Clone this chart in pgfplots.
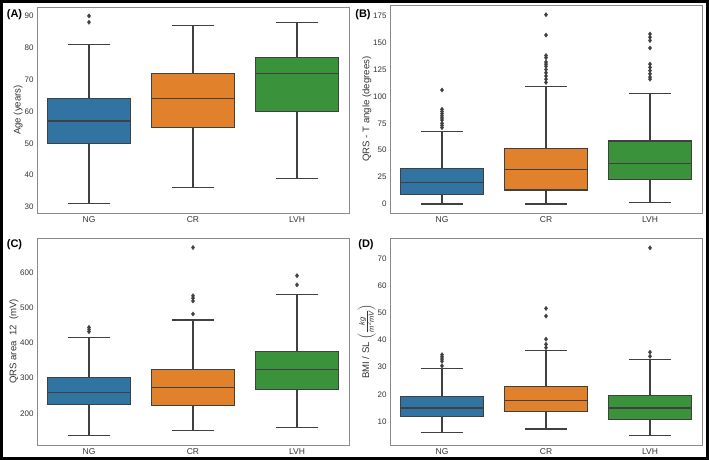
\documentclass[border=0pt]{standalone}
\usepackage{amsmath}
\usepackage{fontspec}
\setmainfont{Liberation Sans}
\usepackage{pgfplots}
\pgfplotsset{compat=1.18}

\definecolor{sbblue}{HTML}{3274A1}
\definecolor{sborange}{HTML}{E1812C}
\definecolor{sbgreen}{HTML}{3A923A}
\definecolor{sbline}{HTML}{404040}
\definecolor{sbtick}{HTML}{333333}
\definecolor{sbframe}{HTML}{8A8A8A}

\pgfplotsset{
  sbpanel/.style={
    scale only axis, width=312pt, height=207pt, anchor=south west,
    xmin=-0.5, xmax=2.5, xtick={0,1,2}, xticklabels={NG,CR,LVH},
    major tick length=0pt,
    axis line style={draw=sbframe, line width=0.9pt},
    tick label style={font=\fontsize{8}{10}\selectfont, text=sbtick},
    xticklabel style={font=\fontsize{8.5}{10}\selectfont},
    label style={font=\fontsize{9.6}{11}\selectfont, text=sbtick},
    ylabel shift=-5pt,
    /pgf/number format/assume math mode=true,
    /pgf/number format/1000 sep={},
  },
  sbedge/.style={draw=sbline, line width=1.1pt, solid, no markers},
  sbcap/.style={draw=sbline, line width=1.1pt, solid, mark=-, mark size=20.8pt, mark indices={2}},
  sbout/.style={only marks, mark=diamond*, mark size=2.2pt,
    mark options={fill=sbline, draw=sbline, line width=0.3pt}},
}

% colour, box left, centre, box right, lower whisker, Q1, median, Q3, upper whisker
\newcommand{\sbbox}[9]{%
  \addplot[sbcap] coordinates {(#3,#6) (#3,#5)};
  \addplot[sbcap] coordinates {(#3,#8) (#3,#9)};
  \addplot[sbedge, fill=#1] coordinates {(#2,#6) (#4,#6) (#4,#8) (#2,#8)} -- cycle;
  \addplot[sbedge] coordinates {(#2,#7) (#4,#7)};
}
\newcommand{\fr}[1]{\text{\fontsize{7.5}{8}\selectfont\itshape #1}}

\begin{document}
\begin{tikzpicture}
\useasboundingbox (0,0) rectangle (709pt,460pt);

% (A) age
\begin{axis}[sbpanel, at={(37pt,247pt)}, height=206pt,
  ymin=28.1, ymax=92.8, ytick={30,40,...,90}, ylabel={Age (years)}]
  \sbbox{sbblue}{-0.4}{0}{0.4}{31}{50}{57}{64}{81}
  \sbbox{sborange}{0.6}{1}{1.4}{36}{55}{64}{72}{87}
  \sbbox{sbgreen}{1.6}{2}{2.4}{39}{60}{72}{77}{88}
  \addplot[sbout] coordinates {(0,90) (0,88)};
\end{axis}

% (B) QRS-T angle
\begin{axis}[sbpanel, at={(390pt,247pt)}, height=208pt,
  ymin=-8.4, ymax=185, ytick={0,25,...,175}, ylabel={QRS - T angle (degrees)}]
  \sbbox{sbblue}{-0.4}{0}{0.4}{0}{9}{20}{33}{67}
  \sbbox{sborange}{0.6}{1}{1.4}{0}{13}{32}{51.5}{109}
  \sbbox{sbgreen}{1.6}{2}{2.4}{1}{23}{38}{58.5}{103}
  \addplot[sbout] coordinates {(0,106) (0,88) (0,86) (0,84) (0,82) (0,80) (0,78) (0,75) (0,73) (0,71)};
  \addplot[sbout] coordinates {(1,176) (1,157) (1,138) (1,136) (1,132) (1,130) (1,128) (1,125) (1,122) (1,119) (1,116) (1,113)};
  \addplot[sbout] coordinates {(2,158) (2,155) (2,152) (2,145) (2,130) (2,127) (2,124) (2,121) (2,118) (2,116)};
\end{axis}

% (C) QRS area
\begin{axis}[sbpanel, at={(37pt,15pt)},
  ymin=110, ymax=698, ytick={200,300,...,600}, ylabel={QRS area~~12~~(mV)}]
  \sbbox{sbblue}{-0.4}{0}{0.4}{136}{224}{260}{302}{416}
  \sbbox{sborange}{0.6}{1}{1.4}{150}{221}{274}{325}{465}
  \sbbox{sbgreen}{1.6}{2}{2.4}{160}{268}{324}{376}{537}
  \addplot[sbout] coordinates {(0,444) (0,438) (0,432)};
  \addplot[sbout] coordinates {(1,671) (1,534) (1,527) (1,519) (1,482)};
  \addplot[sbout] coordinates {(2,591) (2,565)};
\end{axis}

% (D) BMI / SL
\begin{axis}[sbpanel, at={(390pt,15pt)},
  ymin=1.4, ymax=77.5, ytick={10,20,...,70},
  ylabel={BMI / SL $\left(\frac{\fr{kg}}{\fr{m\textsuperscript{2}mV}}\right)$}]
  \sbbox{sbblue}{-0.4}{0}{0.4}{6}{11.8}{15}{19.1}{29.6}
  \sbbox{sborange}{0.6}{1}{1.4}{7.3}{13.8}{17.9}{22.9}{36.3}
  \sbbox{sbgreen}{1.6}{2}{2.4}{4.9}{10.8}{15}{19.7}{32.7}
  \addplot[sbout] coordinates {(0,34.6) (0,33.8) (0,33) (0,32.2) (0,30.5)};
  \addplot[sbout] coordinates {(1,51.6) (1,48.8) (1,40.3) (1,38.4) (1,37.2)};
  \addplot[sbout] coordinates {(2,73.9) (2,35.5) (2,34)};
\end{axis}

\begin{scope}[font=\bfseries\fontsize{11}{13}\selectfont]
  \node at (14.5pt,445.5pt) {(A)};
  \node at (363pt,445.5pt) {(B)};
  \node at (14.5pt,215pt) {(C)};
  \node at (366pt,215pt) {(D)};
\end{scope}

\draw[line width=3pt] (1.5pt,1.5pt) rectangle (707.5pt,458.5pt);
\end{tikzpicture}
\end{document}
